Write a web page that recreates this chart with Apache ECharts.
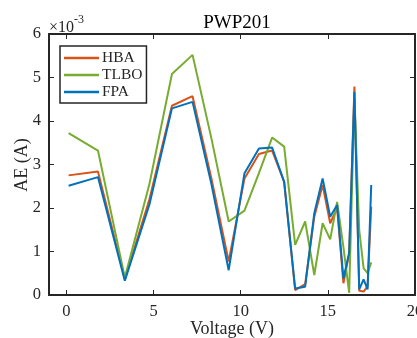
<!DOCTYPE html>
<html>
<head>
<meta charset="utf-8">
<script src="https://cdn.jsdelivr.net/npm/echarts@6/dist/echarts.min.js"></script>
<style>
  html, body { margin: 0; padding: 0; background: #fff; }
  #chart { width: 417px; height: 338px; }
</style>
</head>
<body>
<div id="chart"></div>
<script>
// measured voltages (V)
const voltage = [0.1248, 1.8093, 3.3511, 4.7622, 6.0538, 7.2364, 8.3189, 9.3097, 10.2163, 11.0449,
  11.8018, 12.4929, 13.1231, 13.6983, 14.2221, 14.6995, 15.1346, 15.5311, 15.8929, 16.2229,
  16.5241, 16.7987, 17.0499, 17.2793, 17.4885];

// absolute error, in units of 1e-3 A
const aeHBA = [2.75, 2.84, 0.36, 2.2, 4.35, 4.57, 2.68, 0.77, 2.68, 3.24,
  3.32, 2.6, 0.11, 0.25, 1.8, 2.53, 1.65, 2.0, 0.27, 0.95,
  4.79, 0.1, 0.08, 0.2, 2.03];
const aeTLBO = [3.72, 3.32, 0.4, 2.55, 5.08, 5.52, 3.6, 1.69, 1.94, 2.8,
  3.62, 3.41, 1.15, 1.69, 0.46, 1.65, 1.28, 2.14, 1.1, 0.05,
  4.5, 1.5, 0.62, 0.5, 0.75];
const aeFPA = [2.51, 2.71, 0.33, 2.08, 4.29, 4.44, 2.55, 0.57, 2.8, 3.37,
  3.39, 2.6, 0.15, 0.19, 1.88, 2.68, 1.8, 2.07, 0.38, 0.97,
  4.67, 0.13, 0.36, 0.13, 2.53];

const xTicks = [0, 5, 10, 15, 20];

const FONT = 'Liberation Serif';
const INK = '#262626';

const chart = echarts.init(document.getElementById('chart'));

const pairs = arr => voltage.map((v, i) => [v, arr[i]]);

const boxAxis = {
  axisLine: { show: true, onZero: false, lineStyle: { color: INK, width: 2 } },
  axisTick: { show: true, inside: true, length: 5, lineStyle: { color: INK, width: 1 } },
  splitLine: { show: false }
};

chart.setOption({
  animation: false,
  textStyle: { fontFamily: FONT },
  grid: { left: 49, top: 34, right: 2, bottom: 43, outerBoundsMode: 'none', containLabel: false },
  graphic: [
    {
      type: 'text', x: 237, y: 14,
      style: { text: 'PWP201', font: '19px "Liberation Serif"', fill: '#000', textAlign: 'center' }
    },
    {
      type: 'text', x: 49, y: 14,
      style: {
        text: '{a|×10}{b|-3}',
        rich: {
          a: { fontFamily: FONT, fontSize: 16, fill: INK, padding: [6, 0, 0, 0] },
          b: { fontFamily: FONT, fontSize: 12, fill: INK, verticalAlign: 'top' }
        }
      }
    },
    {
      // y-axis title
      type: 'text', x: 22, y: 165, rotation: Math.PI / 2,
      style: {
        text: 'AE (A)', font: '18px "Liberation Serif"', fill: INK,
        textAlign: 'center', textVerticalAlign: 'middle'
      }
    },
    {
      // x-axis title
      type: 'text', x: 232, y: 329,
      style: {
        text: 'Voltage (V)', font: '18px "Liberation Serif"', fill: INK,
        textAlign: 'center', textVerticalAlign: 'middle'
      }
    }
  ],
  legend: {
    orient: 'vertical',
    left: 60, top: 46,
    icon: 'rect',
    itemWidth: 35, itemHeight: 2.5, itemGap: 1,
    padding: [4, 4, 3, 4],
    borderColor: INK, borderWidth: 1.5,
    backgroundColor: '#fff',
    textStyle: { fontFamily: FONT, fontSize: 15.5, lineHeight: 15, color: INK, padding: [0, 0, 0, -2] },
    data: ['HBA', 'TLBO', 'FPA']
  },
  xAxis: [
    Object.assign({}, boxAxis, {
      type: 'value', min: -1, max: 20,
      axisTick: Object.assign({}, boxAxis.axisTick, { customValues: xTicks }),
      axisLabel: { customValues: xTicks, fontFamily: FONT, fontSize: 16.5, color: INK, margin: 8 }
    }),
    Object.assign({}, boxAxis, {
      type: 'value', min: -1, max: 20, position: 'top',
      axisTick: Object.assign({}, boxAxis.axisTick, { customValues: xTicks }),
      axisLabel: { show: false }
    })
  ],
  yAxis: [
    Object.assign({}, boxAxis, {
      type: 'value', min: 0, max: 6, interval: 1,
      axisLabel: { fontFamily: FONT, fontSize: 16.5, color: INK, margin: 8 }
    }),
    Object.assign({}, boxAxis, {
      type: 'value', min: 0, max: 6, interval: 1, position: 'right',
      axisLabel: { show: false }
    })
  ],
  series: [
    { name: 'HBA', type: 'line', data: pairs(aeHBA), symbol: 'none',
      lineStyle: { color: '#D95319', width: 2 }, itemStyle: { color: '#D95319' } },
    { name: 'TLBO', type: 'line', data: pairs(aeTLBO), symbol: 'none',
      lineStyle: { color: '#77AC30', width: 2 }, itemStyle: { color: '#77AC30' } },
    { name: 'FPA', type: 'line', data: pairs(aeFPA), symbol: 'none',
      lineStyle: { color: '#0072BD', width: 2 }, itemStyle: { color: '#0072BD' } }
  ]
});

window.addEventListener('resize', () => chart.resize());
</script>
</body>
</html>
